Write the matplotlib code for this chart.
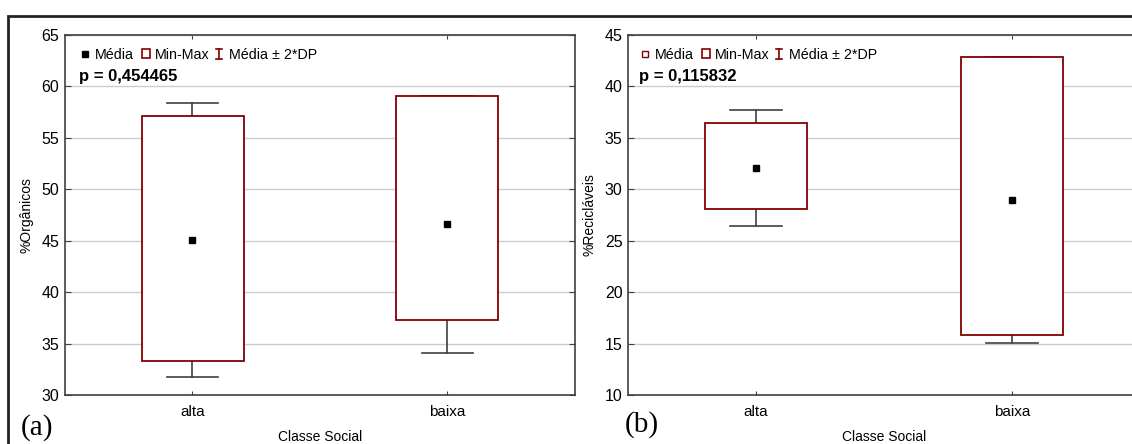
import numpy as np
import matplotlib
matplotlib.use("Agg")
from matplotlib import pyplot as plt
from matplotlib.patches import Rectangle
from matplotlib.lines import Line2D

plt.rcParams['font.family'] = ['Liberation Sans', 'DejaVu Sans']

# dados
classes = ["alta", "baixa"]

org_media = [45.05, 46.6]
org_min = [33.3, 37.3]
org_max = [57.1, 59.1]
org_2dp = [13.3, 12.5]
org_p = "p = 0,454465"

rec_media = [32.05, 28.97]
rec_min = [28.1, 15.85]
rec_max = [36.4, 42.9]
rec_2dp = [5.65, 13.9]
rec_p = "p = 0,115832"

W, H = 1132, 444
fig = plt.figure(figsize=(W / 100, H / 100), dpi=100)

def fx(px):
    return px / W

def fy(py):
    return 1 - py / H

VERMELHO = "#800000"
CINZA = "#404040"

def painel(left_px, width_px, media, mn, mx, dp2, ylim, ylabel):
    ax = fig.add_axes([fx(left_px), fy(395), width_px / W, 360 / H])
    pos = np.arange(1, len(classes) + 1)
    for i in range(len(classes)):
        lo = media[i] - dp2[i]
        hi = media[i] + dp2[i]
        ax.plot([pos[i], pos[i]], [lo, hi], color=CINZA, lw=1.2, zorder=2)
        ax.plot([pos[i] - 0.1, pos[i] + 0.1], [lo, lo], color=CINZA, lw=1.2, zorder=2)
        ax.plot([pos[i] - 0.1, pos[i] + 0.1], [hi, hi], color=CINZA, lw=1.2, zorder=2)
        ax.add_patch(Rectangle((pos[i] - 0.2, mn[i]), 0.4, mx[i] - mn[i],
                               facecolor="white", edgecolor=VERMELHO, lw=1.3, zorder=3))
    ax.plot(pos, media, "s", color="black", ms=5, zorder=4)
    ax.set_xlim(0.5, 2.5)
    ax.set_ylim(*ylim)
    ax.set_yticks(np.arange(ylim[0], ylim[1] + 1, 5))
    ax.set_xticks(pos)
    ax.set_xticklabels(classes, fontsize=11)
    ax.tick_params(axis="y", labelsize=11.5, direction="in", length=4, right=True, color=CINZA, pad=4)
    ax.tick_params(axis="x", direction="in", length=3, top=True, color=CINZA, pad=7)
    ax.grid(axis="y", color="#cccccc", lw=1)
    ax.set_axisbelow(True)
    for s in ax.spines.values():
        s.set_color(CINZA)
        s.set_linewidth(1.2)
    ax.set_ylabel(ylabel, fontsize=10, labelpad=6)
    ax.set_xlabel("Classe Social", fontsize=10, labelpad=8)
    return ax

ax1 = painel(65, 510, org_media, org_min, org_max, org_2dp, (30, 65), "%Orgânicos")
ax2 = painel(628, 512, rec_media, rec_min, rec_max, rec_2dp, (10, 45), "%Recicláveis")

# legendas no estilo Statistica
def legenda(x0, cheio, ptxt):
    yc = 54
    if cheio:
        fig.add_artist(Line2D([fx(x0)], [fy(yc)], marker="s", ms=5, color="black", ls="none"))
    else:
        fig.add_artist(Line2D([fx(x0)], [fy(yc)], marker="s", ms=5, mfc="white",
                              mec=VERMELHO, mew=1, ls="none"))
    fig.text(fx(x0 + 10), fy(yc + 1), "Média", fontsize=10.3, va="center")
    fig.add_artist(Rectangle((fx(x0 + 57), fy(58)), 8 / W, 9 / H, transform=fig.transFigure,
                             facecolor="white", edgecolor=VERMELHO, lw=1.2))
    fig.text(fx(x0 + 70), fy(yc + 1), "Min-Max", fontsize=10.3, va="center")
    xi = x0 + 134
    fig.add_artist(Line2D([fx(xi), fx(xi)], [fy(49), fy(59)], color=VERMELHO, lw=1.2))
    fig.add_artist(Line2D([fx(xi - 3), fx(xi + 3)], [fy(49), fy(49)], color=VERMELHO, lw=1.2))
    fig.add_artist(Line2D([fx(xi - 3), fx(xi + 3)], [fy(59), fy(59)], color=VERMELHO, lw=1.2))
    fig.text(fx(xi + 10), fy(yc + 1), "Média ± 2*DP", fontsize=10.3, va="center")
    fig.text(fx(x0 - 6), fy(77), ptxt, fontsize=12, fontweight="bold", va="center")

legenda(85, True, org_p)
legenda(645, False, rec_p)

fig.text(fx(37), fy(428), "(a)", family="Liberation Serif", fontsize=21, ha="center", va="center")
fig.text(fx(642), fy(425), "(b)", family="Liberation Serif", fontsize=21, ha="center", va="center")

# moldura externa
fig.add_artist(Rectangle((fx(8), fy(460)), 1200 / W, 444 / H, transform=fig.transFigure,
                         facecolor="none", edgecolor="#222222", lw=2))

fig.savefig("out.png", dpi=100)
